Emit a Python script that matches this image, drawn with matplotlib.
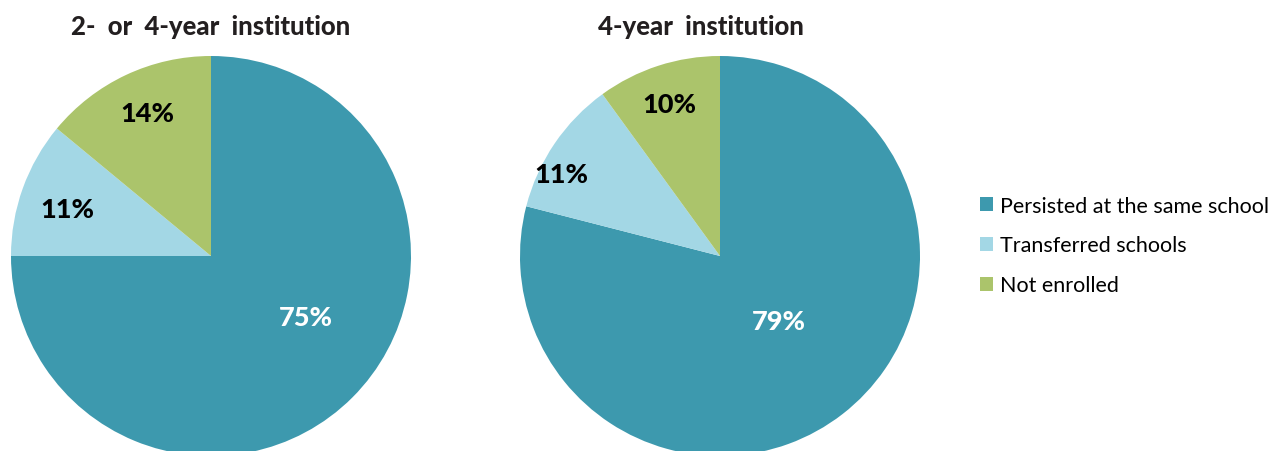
import numpy as np
import matplotlib.pyplot as plt

plt.rcParams['font.family'] = ['Lato', 'DejaVu Sans']

# data
categories = ['Persisted at the same school', 'Transferred schools', 'Not enrolled']
titles = ['2- or 4-year institution', '4-year institution']
shares_any = [75, 11, 14]
shares_4yr = [79, 11, 10]
colors = ['#3D99AE', '#A3D7E5', '#ABC46B']
label_colors = ['white', 'black', 'black']

# where excel dropped the labels (in pie radius units)
label_pos = [
    [(0.475, -0.305), (-0.72, 0.235), (-0.32, 0.715)],
    [(0.295, -0.325), (-0.795, 0.41), (-0.255, 0.76)],
]

W, H = 1274, 452
fig = plt.figure(figsize=(W / 100, H / 100), dpi=100)

# pie boxes in pixels: left edge, top edge, diameter
boxes = [(11, 57, 400), (520, 57, 400)]
title_x = [211, 701]

for i, vals in enumerate([shares_any, shares_4yr]):
    left, top, d = boxes[i]
    ax = fig.add_axes([left / W, (H - top - d) / H, d / W, d / H])
    wedges, _ = ax.pie(vals, colors=colors, startangle=90, counterclock=False,
                       radius=1, wedgeprops=dict(linewidth=0))
    ax.set_xlim(-1, 1)
    ax.set_ylim(-1, 1)
    ax.set_aspect('equal')
    ax.axis('off')
    for j, v in enumerate(vals):
        x, y = label_pos[i][j]
        ax.text(x, y, f'{v}%', ha='center', va='center', fontsize=19.5,
                fontweight='black', color=label_colors[j])
    # the original title has loose word spacing
    fig.text(title_x[i] / W, 1 - 27 / H, titles[i].replace(' ', '  '),
             ha='center', va='center', fontsize=18.5, fontweight='black',
             color='#231F20')

leg = fig.legend(wedges, categories, loc='upper left',
                 bbox_to_anchor=(971 / W, 1 - 188 / H), frameon=False,
                 fontsize=15.5, handlelength=0.62, handleheight=0.62,
                 handletextpad=0.35, labelspacing=0.92, borderaxespad=0)

fig.savefig('out.png', dpi=100)
